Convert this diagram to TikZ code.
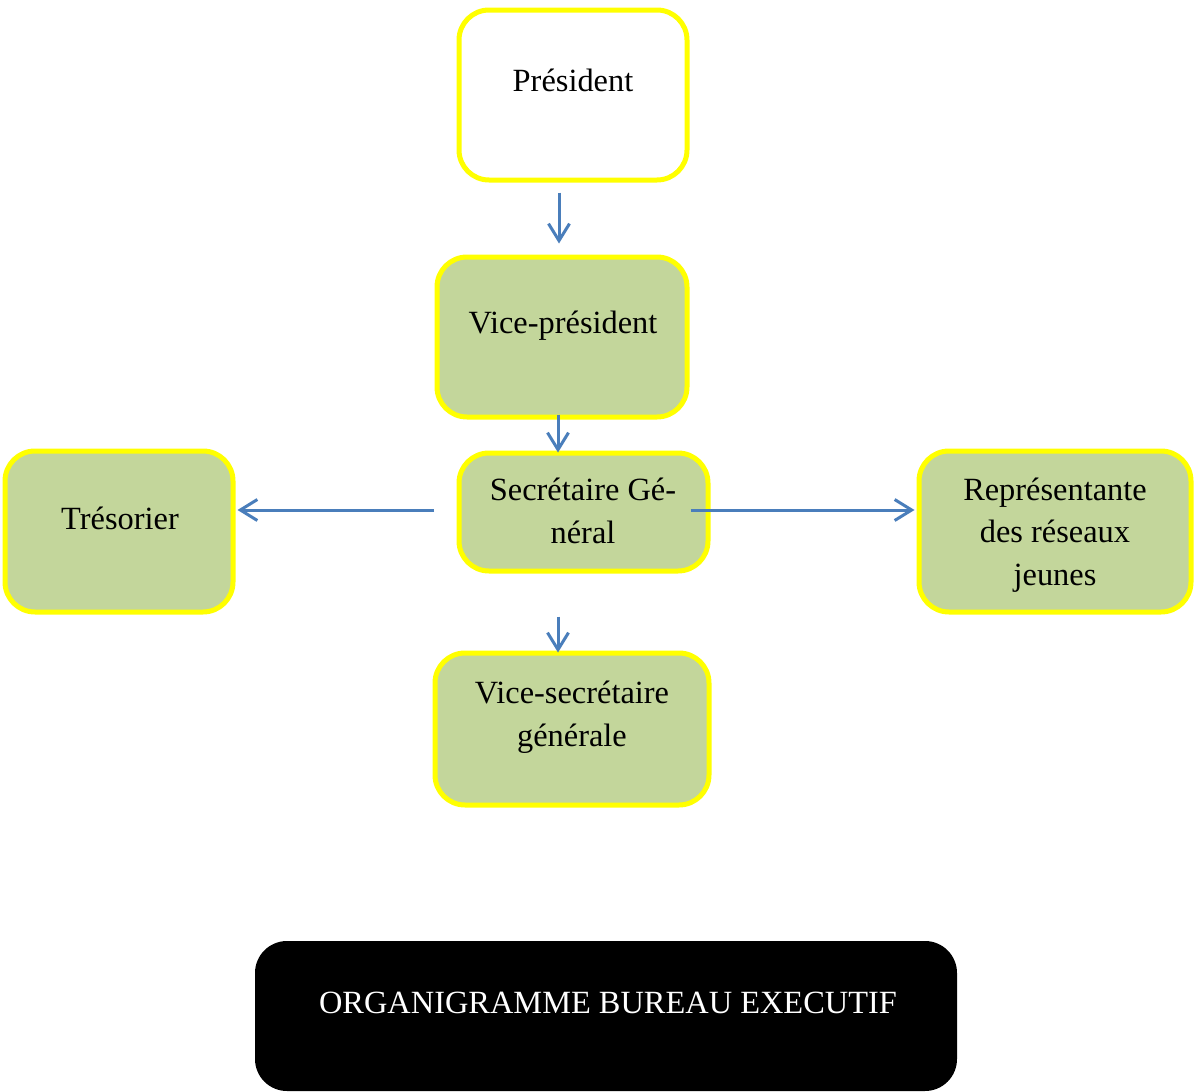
\documentclass[tikz,border=0pt]{standalone}
\usepackage{fontspec}
\setmainfont{Liberation Serif}
\usetikzlibrary{arrows.meta}
\definecolor{boxyellow}{HTML}{FFFF00}
\definecolor{boxgreen}{HTML}{C3D69B}
\definecolor{arrblue}{HTML}{4A7EBB}
\tikzset{
  orgbox/.style={draw=boxyellow, line width=5pt, rounded corners=30pt, fill=boxgreen, inner sep=0pt},
  lbl/.style={font=\fontsize{32.4}{42.5}\selectfont, align=center, inner sep=0pt},
  conn/.style={draw=arrblue, line width=3pt, -{Straight Barb[length=17pt,width=21pt,line width=3pt]}},
}
\begin{document}
\begin{tikzpicture}[x=1pt,y=-1pt]
\useasboundingbox (0,0) rectangle (1195,1092);
% boxes
\node[orgbox, fill=white, minimum width=228pt, minimum height=170pt] (pres) at (573,95) {};
\node[orgbox, minimum width=250pt, minimum height=160pt] (vp) at (562,337) {};
\node[orgbox, minimum width=249pt, minimum height=118pt] (sg) at (583.5,512) {};
\node[orgbox, minimum width=228pt, minimum height=161pt] (tres) at (119,531.5) {};
\node[orgbox, minimum width=272pt, minimum height=161pt] (rep) at (1055,531.5) {};
\node[orgbox, minimum width=274pt, minimum height=152pt] (vsg) at (572,729) {};
\node[fill=black, rounded corners=32pt, minimum width=702pt, minimum height=150pt, inner sep=0pt] (title) at (606,1016) {};
% labels
\node[lbl] (tpres) at (573,80) {Président};
\node[lbl] (tvp) at (563,326) {Vice-président};
\node[lbl] (tsg) at (583,511) {Secrétaire Gé-\\néral};
\node[lbl] (ttres) at (120,518) {Trésorier};
\node[lbl] (trep) at (1055,535) {Représentante\\des réseaux\\jeunes};
\node[lbl] (tvsg) at (572,717) {Vice-secrétaire\\générale};
\node[lbl, text=white] (ttitle) at (608,1003) {ORGANIGRAMME BUREAU EXECUTIF};
% connectors
\draw[conn] ([xshift=-14pt,yshift=-10pt]pres.south) -- ([xshift=-3pt,yshift=11pt]vp.north);
\draw[conn] ([xshift=-4pt,yshift=5pt]vp.south) -- ([xshift=-25.5pt,yshift=-2pt]sg.north);
\draw[conn] ([xshift=-22.5pt,yshift=2pt]sg.west) -- ([xshift=2pt,yshift=21.5pt]tres.east);
\draw[conn] ([xshift=-20pt,yshift=2pt]sg.east) -- ([xshift=-2pt,yshift=21.5pt]rep.west);
\draw[conn] ([xshift=-25.5pt,yshift=-43pt]sg.south) -- ([xshift=-14pt,yshift=-2pt]vsg.north);
\end{tikzpicture}
\end{document}
